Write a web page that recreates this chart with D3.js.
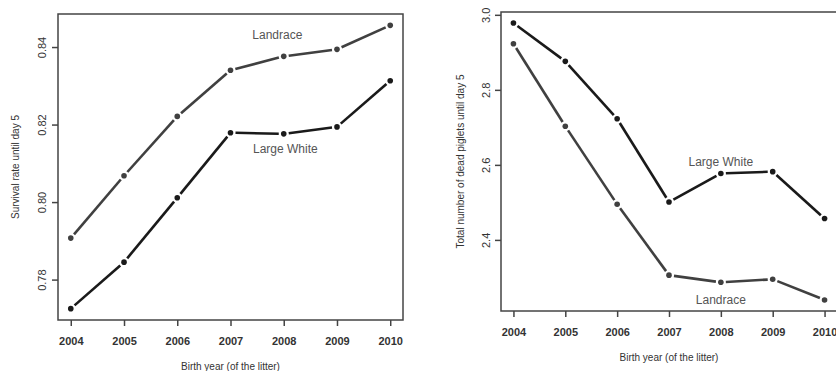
<!DOCTYPE html>
<html>
<head>
<meta charset="utf-8">
<script src="https://d3js.org/d3.v7.min.js"></script>
<style>
  html, body { margin: 0; padding: 0; background: #fff; overflow: hidden; }
  svg { display: block; font-family: "Liberation Sans", Arial, sans-serif; }
</style>
</head>
<body>
<div id="chart"></div>
<script>
// Birth years (x categories)
const years = [2004, 2005, 2006, 2007, 2008, 2009, 2010];

// Left panel: survival rate until day 5
const survivalLandrace = [0.7907, 0.8068, 0.8221, 0.8340, 0.8376, 0.8394, 0.8456];
const survivalLargeWhite = [0.7725, 0.7845, 0.8011, 0.8179, 0.8176, 0.8194, 0.8313];
const survivalTicks = [0.78, 0.80, 0.82, 0.84];

// Right panel: total number of dead piglets until day 5
const deadLargeWhite = [2.978, 2.876, 2.723, 2.501, 2.577, 2.582, 2.457];
const deadLandrace = [2.923, 2.703, 2.495, 2.306, 2.287, 2.295, 2.240];
const deadTicks = [2.4, 2.6, 2.8, 3.0];

const W = 836, H = 371;
const svg = d3.select('#chart').append('svg')
  .attr('width', W)
  .attr('height', H);

// R-style 4% padding on a range
function padded(vals) {
  const [lo, hi] = d3.extent(vals);
  const p = (hi - lo) * 0.04;
  return [lo - p, hi + p];
}

function drawPanel(opts) {
  const { left, right, top, bottom, series, ticks, tickFmt, yTitle, labels, yLabelX, yTitleX, xLabelY, xTitleY } = opts;

  const x = d3.scaleLinear()
    .domain(padded(years))
    .range([left, right]);

  const allVals = series.flatMap(s => s.values);
  const y = d3.scaleLinear()
    .domain(padded(allVals))
    .range([bottom, top]);

  const g = svg.append('g');
  const axisColor = '#444';

  // box
  g.append('rect')
    .attr('x', left)
    .attr('y', top)
    .attr('width', right - left)
    .attr('height', bottom - top)
    .attr('fill', 'none')
    .attr('stroke', axisColor)
    .attr('stroke-width', 1.5);

  // x axis
  const xAxis = d3.axisBottom(x)
    .tickValues(years)
    .tickSize(6)
    .tickFormat(d3.format('d'));
  const gx = g.append('g')
    .attr('transform', `translate(0,${bottom})`)
    .call(xAxis);
  gx.select('.domain').remove();
  gx.selectAll('.tick line').attr('stroke', axisColor).attr('stroke-width', 1.5);
  gx.selectAll('.tick text')
    .attr('y', xLabelY - bottom)
    .attr('dy', '0.35em')
    .attr('font-size', '11px')
    .attr('font-family', '"Liberation Sans", Arial, sans-serif')
    .attr('fill', '#333')
    .attr('font-weight', 'bold');

  // y axis
  const yAxis = d3.axisLeft(y)
    .tickValues(ticks)
    .tickSize(6)
    .tickFormat(tickFmt);
  const gy = g.append('g')
    .attr('transform', `translate(${left},0)`)
    .call(yAxis);
  gy.select('.domain').remove();
  gy.selectAll('.tick line').attr('stroke', axisColor).attr('stroke-width', 1.5);
  gy.selectAll('.tick text')
    .attr('x', 0)
    .attr('dy', null)
    .attr('text-anchor', 'middle')
    .attr('dominant-baseline', 'central')
    .attr('transform', `translate(${yLabelX - left},0) rotate(-90)`)
    .attr('font-size', '11px')
    .attr('font-family', '"Liberation Sans", Arial, sans-serif')
    .attr('fill', '#333');

  // axis titles
  g.append('text')
    .attr('x', (left + right) / 2)
    .attr('y', xTitleY)
    .attr('text-anchor', 'middle')
    .attr('dominant-baseline', 'central')
    .attr('font-size', '10px')
    .attr('fill', '#333')
    .text('Birth year (of the litter)');

  g.append('text')
    .attr('transform', `translate(${yTitleX},${(top + bottom) / 2}) rotate(-90)`)
    .attr('text-anchor', 'middle')
    .attr('dominant-baseline', 'central')
    .attr('font-size', '10px')
    .attr('fill', '#333')
    .text(yTitle);

  // series: line segments with small gaps around points (type = "b")
  const gap = 5;
  series.forEach(s => {
    const pts = years.map((yr, i) => [x(yr), y(s.values[i])]);
    const segs = d3.pairs(pts).map(([a, b]) => {
      const dx = b[0] - a[0], dy = b[1] - a[1];
      const len = Math.hypot(dx, dy);
      const ux = dx / len, uy = dy / len;
      return [a[0] + ux * gap, a[1] + uy * gap, b[0] - ux * gap, b[1] - uy * gap];
    });
    g.selectAll(null)
      .data(segs)
      .enter()
      .append('line')
      .attr('x1', d => d[0])
      .attr('y1', d => d[1])
      .attr('x2', d => d[2])
      .attr('y2', d => d[3])
      .attr('stroke', s.color)
      .attr('stroke-width', 2.6);
    g.selectAll(null)
      .data(pts)
      .enter()
      .append('circle')
      .attr('cx', d => d[0])
      .attr('cy', d => d[1])
      .attr('r', 2.8)
      .attr('fill', s.color);
  });

  // series labels
  labels.forEach(l => {
    g.append('text')
      .attr('x', x(l.year))
      .attr('y', y(l.value))
      .attr('text-anchor', 'middle')
      .attr('dominant-baseline', 'central')
      .attr('font-size', '12px')
      .attr('fill', '#555')
      .text(l.text);
  });
}

drawPanel({
  left: 58, right: 403, top: 14, bottom: 320,
  series: [
    { values: survivalLandrace, color: '#404040' },
    { values: survivalLargeWhite, color: '#1a1a1a' }
  ],
  ticks: survivalTicks,
  tickFmt: d3.format('.2f'),
  yTitle: 'Survival rate until day 5',
  labels: [
    { text: 'Landrace', year: 2007.88, value: 0.8430 },
    { text: 'Large White', year: 2008.03, value: 0.8138 }
  ],
  yLabelX: 42, yTitleX: 15, xLabelY: 341, xTitleY: 366
});

drawPanel({
  left: 501, right: 837, top: 12, bottom: 311,
  series: [
    { values: deadLargeWhite, color: '#1a1a1a' },
    { values: deadLandrace, color: '#404040' }
  ],
  ticks: deadTicks,
  tickFmt: d3.format('.1f'),
  yTitle: 'Total number of dead piglets until day 5',
  labels: [
    { text: 'Large White', year: 2008.0, value: 2.609 },
    { text: 'Landrace', year: 2008.0, value: 2.241 }
  ],
  yLabelX: 486, yTitleX: 460, xLabelY: 332, xTitleY: 357
});
</script>
</body>
</html>
